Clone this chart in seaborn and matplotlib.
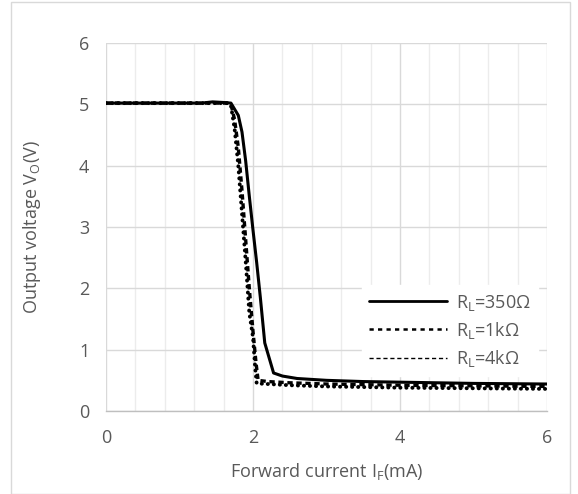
import matplotlib
matplotlib.use("Agg")
import matplotlib.pyplot as plt
import seaborn as sns
import pandas as pd
from matplotlib.lines import Line2D
from matplotlib.patches import Rectangle
from matplotlib.ticker import MultipleLocator

# ---- data ----
I_350 = [0, 0.5, 1.0, 1.3, 1.45, 1.6, 1.7, 1.8, 1.85, 1.9, 1.95, 2.0, 2.05, 2.1, 2.16, 2.28,
         2.4, 2.6, 3.0, 3.5, 4.0, 5.0, 6.0]
V_350 = [5.02, 5.02, 5.02, 5.02, 5.04, 5.03, 5.02, 4.82, 4.55, 4.08, 3.5, 2.95, 2.42, 1.85,
         1.11, 0.62, 0.57, 0.53, 0.50, 0.48, 0.47, 0.45, 0.44]

I_1k = [0, 0.5, 1.0, 1.5, 1.65, 1.7, 1.75, 1.8, 1.85, 1.9, 1.95, 2.0, 2.04, 2.07, 2.2,
        2.5, 3.0, 4.0, 5.0, 6.0]
V_1k = [5.02, 5.02, 5.02, 5.02, 5.02, 5.0, 4.75, 4.3, 3.6, 2.8, 2.0, 1.3, 0.8, 0.5, 0.48,
        0.46, 0.44, 0.42, 0.41, 0.40]

I_4k = [0, 0.5, 1.0, 1.5, 1.65, 1.7, 1.75, 1.8, 1.86, 1.9, 1.95, 2.0, 2.03, 2.05, 2.2,
        2.5, 3.0, 4.0, 5.0, 6.0]
V_4k = [5.02, 5.02, 5.02, 5.02, 5.02, 4.98, 4.6, 4.0, 3.07, 2.45, 1.6, 1.2, 0.7, 0.45,
        0.44, 0.42, 0.40, 0.38, 0.37, 0.36]

labels = ["R$_\\mathregular{L}$=350Ω", "R$_\\mathregular{L}$=1kΩ", "R$_\\mathregular{L}$=4kΩ"]

x_ticks = [0, 2, 4, 6]
y_ticks = [0, 1, 2, 3, 4, 5, 6]

df = pd.concat([
    pd.DataFrame({"I": I_350, "V": V_350, "s": labels[0]}),
    pd.DataFrame({"I": I_1k, "V": V_1k, "s": labels[1]}),
    pd.DataFrame({"I": I_4k, "V": V_4k, "s": labels[2]}),
])

sns.set_theme(style="white")
plt.rcParams["font.family"] = ["Open Sans", "DejaVu Sans"]
plt.rcParams["mathtext.fontset"] = "custom"
plt.rcParams["mathtext.rm"] = "Open Sans"

TXT = "#595959"
FS = 13
fig = plt.figure(figsize=(5.78, 4.94), dpi=100)
ax = fig.add_axes([106 / 578, 1 - 411 / 494, (547 - 106) / 578, (411 - 43) / 494])

styles = {
    labels[0]: dict(linestyle="-", linewidth=2.2),
    labels[1]: dict(linestyle=(0, (1.6, 1.1)), linewidth=2.4),
    labels[2]: dict(linestyle=(0, (0.05, 1.5)), linewidth=2.8, dash_capstyle="round"),
}
# draw dotted/dashed first, solid on top
for lab in [labels[2], labels[1], labels[0]]:
    sub = df[df["s"] == lab]
    sns.lineplot(data=sub, x="I", y="V", ax=ax, color="black", sort=False,
                 estimator=None, legend=False, **styles[lab])

ax.set_xlim(0, 6)
ax.set_ylim(0, 6)
ax.set_xticks(x_ticks)
ax.set_yticks(y_ticks)
ax.xaxis.set_minor_locator(MultipleLocator(0.4))
ax.grid(True, which="major", color="#d9d9d9", linewidth=1.0)
ax.grid(True, which="minor", axis="x", color="#ececec", linewidth=1.0)
ax.set_axisbelow(True)
for s in ["top", "right", "left"]:
    ax.spines[s].set_visible(False)
ax.spines["bottom"].set_color("#bfbfbf")
ax.spines["bottom"].set_linewidth(1.0)
ax.tick_params(axis="both", which="both", length=0, labelsize=FS, colors=TXT)
ax.tick_params(axis="x", pad=13)
ax.tick_params(axis="y", pad=12)

ax.set_xlabel("Forward current I$_\\mathregular{F}$(mA)", fontsize=FS, color=TXT, labelpad=10)
ax.set_ylabel("Output voltage V$_\\mathregular{O}$(V)", fontsize=FS, color=TXT, labelpad=26)

handles = [
    Line2D([], [], color="black", linestyle="-", linewidth=2.0),
    Line2D([], [], color="black", linestyle=(0, (1.7, 1.7)), linewidth=1.8),
    Line2D([], [], color="black", linestyle=(0, (3, 2)), linewidth=1.0),
]
leg = ax.legend(handles, labels, loc="lower right", bbox_to_anchor=(1.0, 0.07),
                frameon=True, fontsize=FS, handlelength=4.3, handletextpad=0.5,
                labelspacing=0.4, borderpad=0.4, fancybox=False)
leg.get_frame().set_facecolor("white")
leg.get_frame().set_edgecolor("white")
leg.get_frame().set_alpha(1.0)
for t in leg.get_texts():
    t.set_color(TXT)

fig.patches.append(Rectangle((11 / 578, 0.0), (570 - 11) / 578, 1 - 2 / 494,
                             transform=fig.transFigure, fill=False,
                             edgecolor="#d9d9d9", linewidth=1.0))

fig.savefig("out.png", dpi=100, facecolor="white")
